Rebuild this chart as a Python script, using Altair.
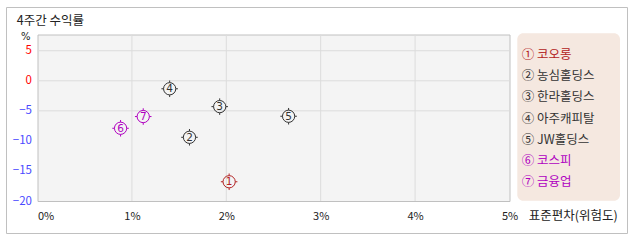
import altair as alt
import pandas as pd

# ---- data ----
names = ["코오롱", "농심홀딩스", "한라홀딩스", "아주캐피탈", "JW홀딩스", "코스피", "금융업"]
circled = ["①", "②", "③", "④", "⑤", "⑥", "⑦"]
digits = ["1", "2", "3", "4", "5", "6", "7"]
risk = [2.03, 1.61, 1.93, 1.40, 2.66, 0.88, 1.12]          # 표준편차 (%)
returns = [-16.8, -9.4, -4.3, -1.33, -5.9, -7.9, -5.95]     # 4주간 수익률 (%)
colors = ["#b22222", "#333333", "#333333", "#333333", "#333333", "#b000c0", "#b000c0"]
x_ticks = [0, 1, 2, 3, 4, 5]
y_ticks = [5, 0, -5, -10, -15, -20]
grid_x = [1, 2, 3, 4]
grid_y = [5, 0, -5]

labels = [c + " " + n for c, n in zip(circled, names)]
df = pd.DataFrame({"name": names, "label": labels, "num": digits,
                   "risk": risk, "ret": returns})
gx = pd.DataFrame({"risk": grid_x})
gy = pd.DataFrame({"ret": grid_y})
one = pd.DataFrame({"k": [0]})

FONT = "Noto Sans CJK KR"
W, H = 472, 166.5

color = alt.Color("name:N", scale=alt.Scale(domain=names, range=colors), legend=None)
xs = alt.Scale(domain=[0, 5], nice=False, zero=False)
ys = alt.Scale(domain=[-20, 7.7], nice=False, zero=False)

x_axis = alt.Axis(
    values=x_ticks, labelExpr="datum.value + '%'", grid=False, ticks=False,
    domain=False, labelPadding=15, labelBaseline="middle", labelFlush=False,
    labelOverlap=False, tickCount=6,
    labelAlign=alt.ExprRef("datum.value == 0 ? 'left' : 'center'"),
    labelFontSize=11, labelFont=FONT, labelColor="#222222",
    title="표준편차(위험도)", titleX=490.8, titleY=14.5, titleAlign="left",
    titleBaseline="middle", titleFontWeight="normal", titleFontSize=12.5,
    titleFont=FONT, titleColor="#222222",
)
y_axis = alt.Axis(
    values=y_ticks, grid=False, ticks=False, domain=False, labelPadding=6,
    labelOverlap=False, labelFlush=False, tickCount=6,
    labelFontSize=11.5, labelFont=FONT,
    labelColor=alt.ExprRef("datum.value >= 0 ? '#ff0000' : '#4a4aff'"),
    title="%", titleAngle=0, titleX=-12.2, titleY=1.5, titleAlign="center",
    titleBaseline="middle", titleFontWeight="normal", titleFontSize=10,
    titleFont="DejaVu Sans", titleColor="#222222",
)

def X():
    return alt.X("risk:Q", scale=xs, axis=x_axis)

def Y():
    return alt.Y("ret:Q", scale=ys, axis=y_axis)

border = alt.Chart(one).mark_rect(fill="transparent", stroke="#c0c0c0", strokeWidth=1).encode(
    x=alt.value(-31), x2=alt.value(590), y=alt.value(-27), y2=alt.value(199)
)
panel = alt.Chart(one).mark_rect(fill="#f5e8e0", cornerRadius=6).encode(
    x=alt.value(479.8), x2=alt.value(582.5), y=alt.value(-1.2), y2=alt.value(166.2)
)
title = alt.Chart(one).mark_text(
    text="4주간 수익률", align="left", baseline="middle", fontSize=12.5, font=FONT, color="#222222"
).encode(x=alt.value(-20.8), y=alt.value(-14))

vgrid = alt.Chart(gx).mark_rule(color="#dcdcdc", strokeWidth=1).encode(x=X())
hgrid = alt.Chart(gy).mark_rule(color="#dcdcdc", strokeWidth=1).encode(y=Y())

circles = alt.Chart(df).mark_point(shape="circle", size=150, filled=False, strokeWidth=1, opacity=1).encode(
    x=X(), y=Y(), color=color
)
ticks = alt.Chart(df).mark_point(
    shape="M0,-1.35L0,-1M0,1L0,1.35M-1.35,0L-1,0M1,0L1.35,0",
    size=150, filled=False, strokeWidth=1, opacity=1
).encode(x=X(), y=Y(), color=color)
nums = alt.Chart(df).mark_text(fontSize=10.5, font="DejaVu Sans", baseline="middle", align="center", dy=0.5).encode(
    x=X(), y=Y(), text="num:N", color=color
)

main = alt.layer(border, panel, title, vgrid, hgrid, circles, ticks, nums)

legend_text = alt.Chart(df).mark_text(align="left", baseline="middle", fontSize=12.5, font=FONT).encode(
    x=alt.value(484.2),
    y=alt.Y("label:N", sort=labels,
            scale=alt.Scale(type="point", range=[20.5, 147.8], padding=0), axis=None),
    text="label:N",
    color=color,
)

chart = alt.layer(main, legend_text).resolve_scale(y="independent").properties(
    width=W, height=H, autosize="none",
    padding={"left": 37.5, "top": 34.5, "right": 128.5, "bottom": 41},
    background="white",
).configure_view(fill="#f4f4f4", stroke="#c0c0c0")

chart.save("out.html", embed_options={"renderer": "svg", "actions": False})
